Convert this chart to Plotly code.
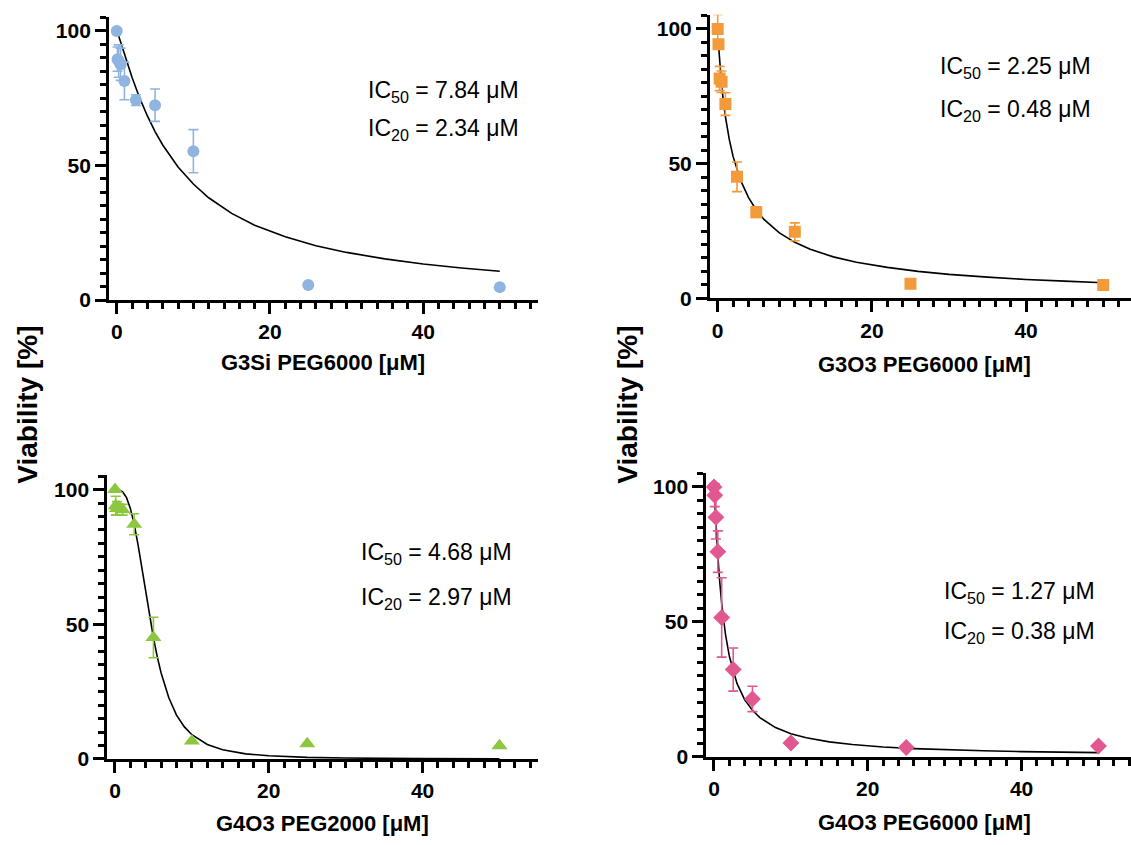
import plotly.graph_objects as go

W, H = 1131, 845

# ---------------- data ----------------
conc = [0, 0.1, 0.25, 0.5, 1, 2.5, 5, 10, 25, 50]

g3si_y   = [100, 89.5, 88.8, 87.6, 81.4, 74.3, 72.4, 55.3, 5.6, 4.8]
g3si_err = [0, 4.5, 6, 6, 7, 2, 6, 8, 0, 0]
g3si_fit_x = [0.25, 0.5, 1, 1.5, 2, 3, 4, 5, 6, 8, 10, 12, 15, 18, 22, 26, 30, 35, 40, 45, 50]
g3si_fit_y = [98.1, 95.9, 91.4, 86.9, 82.7, 75.0, 68.4, 62.6, 57.6, 49.4, 43.1, 38.0, 32.2,
              27.8, 23.5, 20.2, 17.7, 15.3, 13.4, 11.9, 10.7]

g3o3_y   = [100, 94.3, 81.6, 80.4, 72.1, 45.1, 32.0, 24.7, 5.4, 5.0]
g3o3_err = [5.4, 0, 4.5, 4, 4.2, 5.5, 2, 3.3, 0, 0]
g3o3_fit_x = [0.1, 0.25, 0.5, 0.75, 1, 1.5, 2, 3, 4, 5, 6, 8, 10, 12, 15, 18, 22, 26, 30, 35, 40, 45, 50]
g3o3_fit_y = [94.2, 87.8, 79.4, 72.8, 67.4, 59.0, 52.6, 43.6, 37.4, 32.8, 29.3, 24.3, 20.8,
              18.2, 15.4, 13.4, 11.5, 10.0, 8.9, 7.9, 7.0, 6.4, 5.8]

g4o3_2k_y   = [100, 94, 93, 93.5, 92.5, 87.1, 45.1, 6.7, 5.7, 4.9]
g4o3_2k_err = [0, 3.5, 2.5, 1, 2, 3.9, 7.5, 0, 0, 0]
g4o3_2k_fit_x = [0, 0.5, 1, 1.5, 2, 2.5, 3, 3.5, 4, 4.5, 5, 5.5, 6, 7, 8, 9, 10, 12, 14, 17,
                 20, 25, 30, 40, 50]
g4o3_2k_fit_y = [100, 99.9, 99.1, 97.0, 93.0, 87.1, 79.5, 70.8, 61.7, 53.0, 45.0, 37.9, 31.9,
                 22.7, 16.3, 12.0, 9.0, 5.4, 3.4, 1.9, 1.2, 0.6, 0.35, 0.14, 0.07]

g4o3_6k_y   = [100, 96.9, 88.7, 76.0, 51.6, 32.3, 21.4, 5.1, 3.4, 4.0]
g4o3_6k_err = [1.2, 4.2, 8, 7.7, 14.7, 8, 4.7, 0, 0, 0]
g4o3_6k_fit_x = [0.1, 0.25, 0.5, 0.75, 1, 1.5, 2, 3, 4, 5, 6, 8, 10, 12, 15, 18, 22, 26, 30,
                 35, 40, 45, 50]
g4o3_6k_fit_y = [94.9, 86.6, 74.5, 64.7, 56.8, 45.2, 37.2, 27.1, 21.1, 17.2, 14.4, 10.8, 8.5,
                 7.0, 5.5, 4.5, 3.6, 3.0, 2.6, 2.2, 1.9, 1.6, 1.5]

x_titles = ["G3Si PEG6000 [μM]", "G3O3 PEG6000 [μM]", "G4O3 PEG2000 [μM]", "G4O3 PEG6000 [μM]"]
ic50_labels = ["7.84", "2.25", "4.68", "1.27"]
ic20_labels = ["2.34", "0.48", "2.97", "0.38"]
y_title = "Viability [%]"

# ---------------- styling / layout ----------------
FONT = "Liberation Sans, Arial, sans-serif"
colors = ["#8fb4df", "#f39a3b", "#8dc63f", "#e0588f"]
symbols = ["circle", "square", "triangle-up", "diamond"]
msizes = [12, 12, 14, 13]

# panel geometry in pixels: (x pixel of x=-1, px per x unit, x end value, y pixel of y=0, px per y unit)
panels = [
    (109.1, 7.66, 55.0, 304.0, 2.727),
    (710.0, 7.71, None, 302.3, 2.73),
    (107.3, 7.69, 55.0, 769.0, 2.73),
    (706.3, 7.69, None, 766.7, 2.734),
]
YTOP = 105.3

series = [
    (g3si_y, g3si_err, g3si_fit_x, g3si_fit_y),
    (g3o3_y, g3o3_err, g3o3_fit_x, g3o3_fit_y),
    (g4o3_2k_y, g4o3_2k_err, g4o3_2k_fit_x, g4o3_2k_fit_y),
    (g4o3_6k_y, g4o3_6k_err, g4o3_6k_fit_x, g4o3_6k_fit_y),
]

ic_pos = [(366, 93, 131), (938, 68, 112), (359, 561, 606), (942, 600, 641)]
xt_pos = [(323, 367), (924, 369), (322, 834), (924, 833)]

fig = go.Figure()
layout = dict(width=W, height=H, margin=dict(l=0, r=0, t=0, b=0),
              paper_bgcolor="white", plot_bgcolor="white", showlegend=False)
annotations = []

for i, (p, s) in enumerate(zip(panels, series)):
    xm1, xper, xend, y0pix, yper = p
    if xend is None:
        xend = -1 + (W - xm1) / xper
        xr = W
    else:
        xr = xm1 + (xend + 1) * xper
    ytoppix = y0pix - YTOP * yper
    xa = "xaxis" if i == 0 else f"xaxis{i+1}"
    ya = "yaxis" if i == 0 else f"yaxis{i+1}"
    xref = "x" if i == 0 else f"x{i+1}"
    yref = "y" if i == 0 else f"y{i+1}"
    yv, ye, fx, fy = s

    fig.add_trace(go.Scatter(x=fx, y=fy, mode="lines", line=dict(color="black", width=1.6),
                             xaxis=xref, yaxis=yref, hoverinfo="skip"))
    fig.add_trace(go.Scatter(x=conc, y=yv, mode="markers",
                             marker=dict(color=colors[i], symbol=symbols[i], size=msizes[i],
                                         line=dict(width=0)),
                             error_y=dict(type="data", array=ye, visible=True, color=colors[i],
                                          thickness=1.6, width=5),
                             xaxis=xref, yaxis=yref))

    layout[xa] = dict(domain=[xm1 / W, min(xr / W, 1.0)], range=[-1, xend], anchor=yref,
                      showline=True, linecolor="black", linewidth=3, showgrid=False, zeroline=False,
                      ticks="outside", ticklen=11, tickwidth=3, tickcolor="black",
                      tickvals=[0, 20, 40],
                      tickfont=dict(family=FONT, size=21, color="black", weight="bold"),
                      minor=dict(dtick=2, tick0=0, ticks="outside", ticklen=6, tickwidth=2.5,
                                 tickcolor="black", showgrid=False))
    layout[ya] = dict(domain=[(H - y0pix) / H, (H - ytoppix) / H], range=[0, YTOP], anchor=xref,
                      showline=True, linecolor="black", linewidth=3, showgrid=False, zeroline=False,
                      ticks="outside", ticklen=11, tickwidth=3, tickcolor="black",
                      tickvals=[0, 50, 100],
                      tickfont=dict(family=FONT, size=21, color="black", weight="bold"),
                      minor=dict(dtick=5, tick0=0, ticks="outside", ticklen=6, tickwidth=2.5,
                                 tickcolor="black", showgrid=False))

    icx, icy50, icy20 = ic_pos[i]
    annotations.append(dict(text=f"IC<sub>50</sub> = {ic50_labels[i]} μM", x=icx / W, y=1 - icy50 / H,
                            xref="paper", yref="paper", xanchor="left", yanchor="middle",
                            showarrow=False, font=dict(family=FONT, size=23, color="black")))
    annotations.append(dict(text=f"IC<sub>20</sub> = {ic20_labels[i]} μM", x=icx / W, y=1 - icy20 / H,
                            xref="paper", yref="paper", xanchor="left", yanchor="middle",
                            showarrow=False, font=dict(family=FONT, size=23, color="black")))
    tx, ty = xt_pos[i]
    annotations.append(dict(text=x_titles[i], x=tx / W, y=1 - ty / H, xref="paper", yref="paper",
                            xanchor="center", yanchor="middle", showarrow=False,
                            font=dict(family=FONT, size=22, color="black", weight="bold")))

for vx in (28, 628):
    annotations.append(dict(text=y_title, x=vx / W, y=1 - 410 / H, xref="paper", yref="paper",
                            xanchor="center", yanchor="middle", textangle=-90, showarrow=False,
                            font=dict(family=FONT, size=28, color="black", weight="bold")))

layout["annotations"] = annotations
fig.update_layout(**layout)
fig.write_html("out.html")
